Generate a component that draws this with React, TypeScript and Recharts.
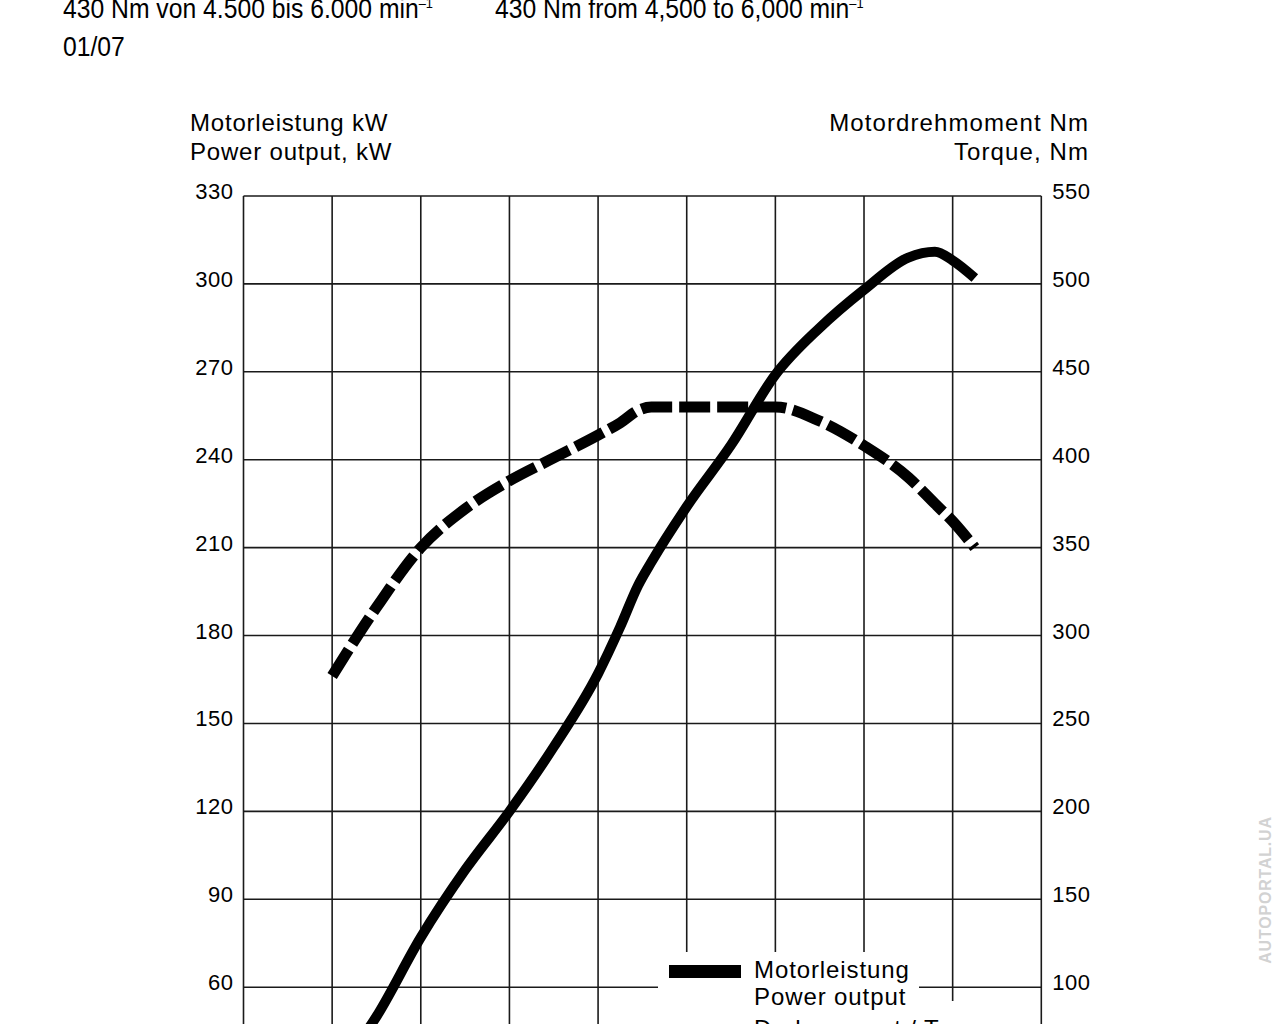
import React from 'react';
import { LineChart, Line, XAxis, YAxis, CartesianGrid, Legend } from 'recharts';

// engine speed (min-1) and the two curves
const rpm = [1000, 1500, 2000, 2500, 3000, 3500, 4000, 4250, 4450, 4600, 5000, 5500, 6000, 6500, 7000, 7500, 7800, 8000, 8250];
const powerKw = [29, 50, 77, 100, 120, 142, 167, 183, 197, 205, 224, 245, 269, 285, 298, 309, 311, 308, 302];
const torqueNm = [277, 316, 350, 372, 388, 401, 414, 421, 428, 430, 430, 430, 430, 422, 408, 390, 375, 365, 350];

const rpmTicks = [0, 1000, 2000, 3000, 4000, 5000, 6000, 7000, 8000, 9000];
const kwTicks = [0, 30, 60, 90, 120, 150, 180, 210, 240, 270, 300, 330];
const nmTicks = [0, 50, 100, 150, 200, 250, 300, 350, 400, 450, 500, 550];

const headerDe = '430 Nm von 4.500 bis 6.000 min';
const headerEn = '430 Nm from 4,500 to 6,000 min';
const dateLabel = '01/07';

const data = rpm.map((r, i) => ({ rpm: r, power: powerKw[i], torque: torqueNm[i] }));

const FONT = '"Liberation Sans", Arial, sans-serif';

const LeftTick = (props: any) => (
  <text x={props.x} y={props.y + 3} textAnchor="end" fontSize={22} letterSpacing={0.5} fill="#000" fontFamily={FONT}>
    {props.payload.value}
  </text>
);

const RightTick = (props: any) => (
  <text x={props.x} y={props.y + 3} textAnchor="start" fontSize={22} letterSpacing={0.5} fill="#000" fontFamily={FONT}>
    {props.payload.value}
  </text>
);

const legendText: React.CSSProperties = { position: 'absolute', left: 96, fontSize: 24, letterSpacing: 0.9, fontFamily: FONT, color: '#000', lineHeight: '24px', whiteSpace: 'nowrap' };

const renderLegend = () => (
  <div style={{ position: 'relative', width: 360, height: 110 }}>
    <div style={{ position: 'absolute', left: 0, top: 0, width: 261, height: 50, background: '#fff' }} />
    <div style={{ position: 'absolute', left: 0, top: 49, width: 357, height: 61, background: '#fff' }} />
    <div style={{ position: 'absolute', left: 11, top: 13, width: 72, height: 13, background: '#000' }} />
    <div style={{ ...legendText, top: 6 }}>Motorleistung</div>
    <div style={{ ...legendText, top: 33 }}>Power output</div>
    <svg style={{ position: 'absolute', left: 11, top: 72 }} width={72} height={12}>
      <line x1={0} y1={6} x2={72} y2={6} stroke="#000" strokeWidth={11} strokeDasharray="31 7" />
    </svg>
    <div style={{ ...legendText, top: 65 }}>Drehmoment / Torque</div>
  </div>
);

const headStyle: React.CSSProperties = {
  position: 'absolute',
  fontFamily: FONT,
  fontSize: 27,
  lineHeight: '27px',
  whiteSpace: 'nowrap',
  transform: 'scaleX(0.915)',
  transformOrigin: 'left top',
};

const App: React.FC = () => {
  return (
    <div style={{ position: 'absolute', left: 0, top: 0, width: 1280, height: 1024, overflow: 'hidden', background: '#fff' }}>
      <div style={{ ...headStyle, left: 63, top: -10 }}>
        {headerDe}<sup style={{ fontSize: 14 }}>–1</sup>
      </div>
      <div style={{ ...headStyle, left: 495, top: -10 }}>
        {headerEn}<sup style={{ fontSize: 14 }}>–1</sup>
      </div>
      <div style={{ ...headStyle, left: 63, top: 34 }}>{dateLabel}</div>

      <div style={{ position: 'absolute', left: 190, top: 109, fontFamily: FONT, fontSize: 24, lineHeight: '28.5px', letterSpacing: 0.8, whiteSpace: 'nowrap' }}>
        Motorleistung kW<br />Power output, kW
      </div>
      <div style={{ position: 'absolute', right: 1280 - 1089, top: 109, fontFamily: FONT, fontSize: 24, lineHeight: '28.5px', letterSpacing: 1.1, textAlign: 'right', whiteSpace: 'nowrap' }}>
        Motordrehmoment Nm<br />Torque, Nm
      </div>

      <div style={{ position: 'absolute', left: 0, top: 0 }}>
        <LineChart width={1280} height={1240} data={data} margin={{ top: 196, left: 183.5, right: 178.7, bottom: 37 }}>
          <CartesianGrid stroke="#1a1a1a" strokeWidth={1.6} />
          <XAxis
            dataKey="rpm"
            type="number"
            domain={[0, 9000]}
            ticks={rpmTicks}
            height={40}
            axisLine={false}
            tickLine={false}
            tick={{ fontSize: 22, fill: '#000', fontFamily: FONT }}
          />
          <YAxis
            type="number"
            domain={[0, 330]}
            ticks={kwTicks}
            width={60}
            axisLine={false}
            tickLine={false}
            tickSize={0}
            tickMargin={10}
            tick={LeftTick}
          />
          <YAxis
            yAxisId="right"
            orientation="right"
            type="number"
            domain={[0, 550]}
            ticks={nmTicks}
            width={60}
            axisLine={false}
            tickLine={false}
            tickSize={0}
            tickMargin={11}
            tick={RightTick}
          />
          <Legend layout="horizontal" verticalAlign="middle" align="center" content={renderLegend} wrapperStyle={{ left: 658, top: 952, width: 360, height: 110 }} />
          <Line yAxisId="right" type="monotone" dataKey="torque" stroke="#000" strokeWidth={11} strokeDasharray="31 7" dot={false} activeDot={false} isAnimationActive={false} />
          <Line type="monotone" dataKey="power" stroke="#000" strokeWidth={10} dot={false} activeDot={false} isAnimationActive={false} />
        </LineChart>
      </div>

      <div style={{ position: 'absolute', left: 1266, top: 890, transform: 'translate(-50%, -50%) rotate(-90deg)', color: '#d2d2d2', fontFamily: FONT, fontWeight: 'bold', fontSize: 16, letterSpacing: 0.8, whiteSpace: 'nowrap' }}>
        AUTOPORTAL.UA
      </div>
    </div>
  );
};

export default App;
